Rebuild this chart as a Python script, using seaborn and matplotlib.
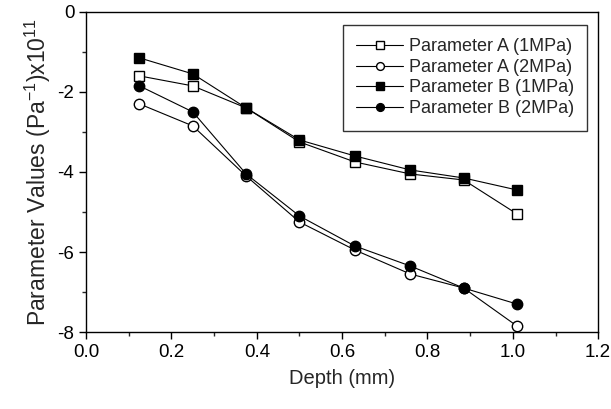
import matplotlib
matplotlib.use("Agg")
import matplotlib.pyplot as plt
import seaborn as sns
import pandas as pd
from matplotlib.ticker import MultipleLocator

depth = [0.125, 0.25, 0.375, 0.5, 0.63, 0.76, 0.885, 1.01]
param_a_1mpa = [-1.6, -1.85, -2.4, -3.25, -3.75, -4.05, -4.2, -5.05]
param_a_2mpa = [-2.3, -2.85, -4.1, -5.25, -5.95, -6.55, -6.9, -7.85]
param_b_1mpa = [-1.15, -1.55, -2.4, -3.2, -3.6, -3.95, -4.15, -4.45]
param_b_2mpa = [-1.85, -2.5, -4.05, -5.1, -5.85, -6.35, -6.9, -7.3]
series_names = ["Parameter A (1MPa)", "Parameter A (2MPa)",
                "Parameter B (1MPa)", "Parameter B (2MPa)"]

sns.set_style("ticks")
plt.rcParams['font.family'] = ['Liberation Sans', 'DejaVu Sans']
plt.rcParams['axes.unicode_minus'] = False

fig = plt.figure(figsize=(6.11, 4.09), dpi=100)
ax = fig.add_axes([0.141, 0.188, 0.838, 0.783])

styles = [("s", "white"), ("o", "white"), ("s", "black"), ("o", "black")]
for name, vals, (mk, fc) in zip(series_names,
                                [param_a_1mpa, param_a_2mpa, param_b_1mpa, param_b_2mpa],
                                styles):
    df = pd.DataFrame({"Depth": depth, "Value": vals})
    sns.lineplot(data=df, x="Depth", y="Value", ax=ax, color="black",
                 linewidth=0.8, marker=mk, markersize=7.5,
                 markerfacecolor=fc, markeredgecolor="black",
                 markeredgewidth=1.0, label=name)

ax.set_xlim(0, 1.2)
ax.set_ylim(-8, 0)
ax.xaxis.set_major_locator(MultipleLocator(0.2))
ax.xaxis.set_minor_locator(MultipleLocator(0.1))
ax.yaxis.set_major_locator(MultipleLocator(2))
ax.yaxis.set_minor_locator(MultipleLocator(1))
ax.set_xticklabels([f"{v:.1f}" for v in ax.get_xticks()])
ax.tick_params(axis="both", which="major", direction="out", length=5, width=1,
               labelsize=13.5, colors="black")
ax.tick_params(axis="both", which="minor", direction="out", length=3, width=1)
for s in ax.spines.values():
    s.set_linewidth(1.0)
    s.set_color("black")
    s.set_visible(True)

ax.set_xlabel("Depth (mm)", fontsize=14.5, labelpad=6)
ax.set_ylabel(r"Parameter Values (Pa$^{\mathregular{-1}}$)x10$^{\mathregular{11}}$",
              fontsize=16.5, labelpad=3)

leg = ax.legend(loc="upper right", bbox_to_anchor=(0.979, 0.96), fontsize=13,
                frameon=True, fancybox=False, edgecolor="black",
                handlelength=2.6, labelspacing=0.2, borderpad=0.75,
                handletextpad=0.3, markerscale=0.75, borderaxespad=0)
leg.get_frame().set_linewidth(1.0)

fig.savefig("out.png", dpi=100)
